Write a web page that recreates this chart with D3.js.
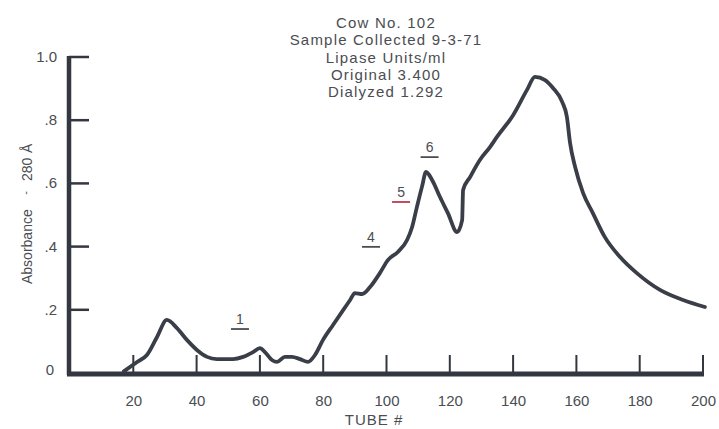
<!DOCTYPE html>
<html><head><meta charset="utf-8">
<script src="https://cdn.jsdelivr.net/npm/d3@7"></script>
<style>
html,body{margin:0;padding:0;background:#fff;}
svg{display:block;}
text{font-family:"Liberation Sans",Arial,Helvetica,sans-serif;fill:#4a4d52;}
</style></head>
<body>
<svg id="chart" width="719" height="429"></svg>
<script>
// Data
const tubes = [17,21.2,24.3,27.5,30.6,33.8,37.0,40.1,43.3,46.4,51.5,54.7,57.8,60.0,61.6,63.8,65.4,67.9,70.1,72.7,75.2,77.4,79.9,83.1,86.3,88.5,90.0,92.3,94.8,97.9,100.5,103.6,106.5,108.1,109.6,111.2,112.5,114.4,116.9,119.4,122.3,123.9,124.2,126.4,129.5,132.7,134.9,140.0,144.4,146.9,150.1,152.6,155.5,157.0,158.0,159.6,162.1,165.2,169.0,173.8,179.1,186.4,193.7,200.6];
const absorbance = [0.005,0.035,0.057,0.114,0.168,0.142,0.104,0.073,0.051,0.044,0.044,0.051,0.066,0.079,0.066,0.041,0.035,0.051,0.051,0.044,0.035,0.057,0.104,0.152,0.199,0.231,0.253,0.25,0.272,0.316,0.358,0.383,0.421,0.462,0.525,0.589,0.636,0.611,0.557,0.506,0.446,0.484,0.579,0.620,0.674,0.715,0.747,0.816,0.896,0.937,0.927,0.902,0.858,0.810,0.728,0.652,0.570,0.506,0.430,0.367,0.316,0.263,0.231,0.209];
const xTicks = [20,40,60,80,100,120,140,160,180,200];
const yTicks = [0,0.2,0.4,0.6,0.8,1.0];
const yTickLabels = ["0",".2",".4",".6",".8","1.0"];
const titleLines = ["Cow No. 102","Sample Collected 9-3-71","Lipase Units/ml","Original 3.400","Dialyzed 1.292"];
const fractionLabels = ["1","4","5","6"];
const fractionTubes = [53.7,95.1,104.6,113.6];
const fractionLevels = [0.155,0.415,0.557,0.699];
const fractionColors = ["#4a4d52","#4a4d52","#c0394f","#4a4d52"];

const svg = d3.select("#chart");
const ink = "#33373f";
const x = d3.scaleLinear().domain([0,200]).range([70,703]);
const y = d3.scaleLinear().domain([0,1]).range([373,57]);

// X axis ticks (pointing up) and labels
const xAxis = d3.axisBottom(x).tickValues(xTicks).tickSize(0).tickFormat(d=>d).tickPadding(21);
const gx = svg.append("g").attr("transform","translate(0,374)").call(xAxis);
gx.select(".domain").remove();
gx.selectAll(".tick text").attr("font-size",15).style("fill","#4a4d52").attr("font-family","Liberation Sans, Arial, sans-serif");
svg.append("g").selectAll("line").data(xTicks).join("line")
  .attr("x1",d=>x(d)).attr("x2",d=>x(d)).attr("y1",374).attr("y2",355)
  .attr("stroke",ink).attr("stroke-width",2);

// Y axis ticks (pointing right) and labels
svg.append("g").selectAll("line").data(yTicks.filter(d=>d>0)).join("line")
  .attr("x1",69).attr("x2",89).attr("y1",d=>y(d)).attr("y2",d=>y(d))
  .attr("stroke",ink).attr("stroke-width",2.5);
svg.append("g").selectAll("text").data(yTicks).join("text")
  .attr("x",d=>d===0?54:57).attr("y",d=>y(d)+(d===0?2:5)).attr("text-anchor","end")
  .attr("font-size",15).text((d,i)=>yTickLabels[i]);

// main axis lines
svg.append("line").attr("x1",69).attr("x2",69).attr("y1",y(1)-1).attr("y2",375).attr("stroke",ink).attr("stroke-width",4.5);
svg.append("line").attr("x1",67).attr("x2",x(200)+1).attr("y1",374).attr("y2",374).attr("stroke",ink).attr("stroke-width",5);

// curve
const line = d3.line().x((d,i)=>x(tubes[i])).y(d=>y(d)).curve(d3.curveMonotoneX);
svg.append("path").attr("d",line(absorbance)).attr("fill","none").attr("stroke","#3a3e48")
  .attr("stroke-width",3.8).attr("stroke-linejoin","round").attr("stroke-linecap","round");

// fraction labels
fractionLabels.forEach((t,i)=>{
  const cx = x(fractionTubes[i]), cy = y(fractionLevels[i]);
  svg.append("text").attr("x",cx).attr("y",cy).attr("text-anchor","middle").attr("font-size",14).text(t);
  svg.append("line").attr("x1",cx-9).attr("x2",cx+9).attr("y1",cy+5).attr("y2",cy+5)
    .attr("stroke",fractionColors[i]).attr("stroke-width",1.8);
});

// title
titleLines.forEach((t,i)=>{
  svg.append("text").attr("x",386).attr("y",28+i*17.25).attr("text-anchor","middle")
    .attr("font-size",15).attr("letter-spacing",1.2).text(t);
});

// axis titles
const yl = svg.append("g").attr("transform","translate(32,0) rotate(-90)");
yl.append("text").attr("x",-284).attr("y",0).attr("font-size",14).text("Absorbance");
yl.append("text").attr("x",-193).attr("y",-3).attr("text-anchor","middle").attr("font-size",11).text("-");
yl.append("text").attr("x",-181).attr("y",0).attr("font-size",14).text("280");
yl.append("text").attr("x",-153).attr("y",0).attr("font-size",14).text("Å");
svg.append("text").attr("x",374).attr("y",425).attr("text-anchor","middle").attr("font-size",15)
  .attr("letter-spacing",1).text("TUBE #");
</script>
</body></html>
